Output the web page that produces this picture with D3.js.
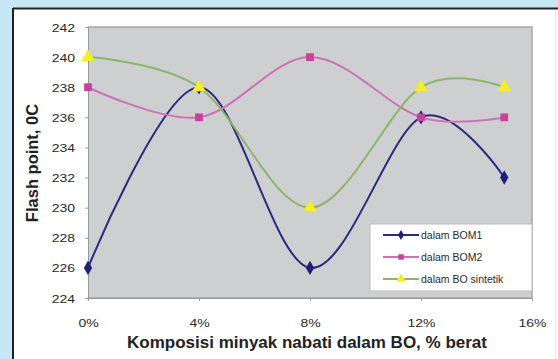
<!DOCTYPE html>
<html><head><meta charset="utf-8">
<script src="https://cdn.jsdelivr.net/npm/d3@7"></script>
<style>body{margin:0;background:#c6e7f6;}svg{display:block;}</style>
</head><body>
<script>
const xValues = [0, 4, 8, 12, 15];
const bom1 = [226, 238, 226, 236, 232];
const bom2 = [238, 236, 240, 236, 236];
const sintetik = [240, 238, 230, 238, 238];
const seriesNames = ["dalam BOM1", "dalam BOM2", "dalam BO sintetik"];
const yTicks = [224, 226, 228, 230, 232, 234, 236, 238, 240, 242];
const xTicks = [0, 4, 8, 12, 16];

const W = 558, H = 359;
const FONT = "Arial, Liberation Sans, sans-serif";
const svg = d3.select("body").append("svg").attr("width", W).attr("height", H);
svg.append("rect").attr("width", W).attr("height", H).attr("fill", "#c6e7f6");
svg.append("rect").attr("x", 14).attr("y", 9).attr("width", W - 14).attr("height", H - 9).attr("fill", "#fff");
svg.append("line").attr("x1", 13).attr("x2", 13).attr("y1", 8).attr("y2", H).attr("stroke", "#222").attr("stroke-width", 2);
svg.append("line").attr("x1", 13).attr("x2", W).attr("y1", 8.5).attr("y2", 8.5).attr("stroke", "#222").attr("stroke-width", 2);
svg.append("line").attr("x1", 555.5).attr("x2", 555.5).attr("y1", 10).attr("y2", H).attr("stroke", "#e6e6e6");

const L = 88, R = 532, T = 27, B = 298;
const x = d3.scaleLinear().domain([0, 16]).range([L, R]);
const y = d3.scaleLinear().domain([224, 242]).range([B, T]);

svg.append("rect").attr("x", L).attr("y", T).attr("width", R - L).attr("height", B - T)
  .attr("fill", "#cdcfd0");
svg.append("path").attr("d", `M${L},${T}H${R}V${B}H${L}`).attr("fill", "none").attr("stroke", "#a8a8a8").attr("stroke-width", 1.5);

const yAxis = svg.append("g").attr("transform", `translate(${L},0)`)
  .call(d3.axisLeft(y).tickValues(yTicks).tickSize(3).tickPadding(10));
yAxis.select(".domain").attr("stroke", "#999");
yAxis.selectAll(".tick line").attr("stroke", "#999");
yAxis.selectAll("text").attr("font-family", FONT).attr("font-size", 14).attr("fill", "#2a2a2a")
  .attr("dy", "0.36em").attr("transform", "scale(1,0.8)").each(function(d){ d3.select(this).attr("y", 0); });

const xAxis = svg.append("g").attr("transform", `translate(0,${B})`)
  .call(d3.axisBottom(x).tickValues(xTicks).tickFormat(d => d + "%").tickSize(3).tickPadding(12));
xAxis.select(".domain").attr("stroke", "#999");
xAxis.selectAll(".tick line").attr("stroke", "#999");
xAxis.selectAll("text").attr("font-family", FONT).attr("font-size", 14).attr("fill", "#2a2a2a")
  .attr("dy", null).attr("y", 0).attr("transform", "translate(0,29) scale(1,0.8)");

const series = [
  {name: seriesNames[0], vals: bom1, line: "#2a2a80", marker: "#1f1f78", sym: d3.symbolDiamond, size: 60},
  {name: seriesNames[1], vals: bom2, line: "#cf72b4", marker: "#c9409e", sym: d3.symbolSquare, size: 60},
  {name: seriesNames[2], vals: sintetik, line: "#8db56a", marker: "#f2ee2a", sym: d3.symbolTriangle, size: 80}
];
const lineGen = d3.line().x(d => x(d[0])).y(d => y(d[1])).curve(d3.curveCardinal.tension(0));

series.forEach(s => {
  const pts = xValues.map((v, i) => [v, s.vals[i]]);
  svg.append("path").datum(pts).attr("d", lineGen).attr("fill", "none")
    .attr("stroke", s.line).attr("stroke-width", 2);
});
series.forEach(s => {
  const pts = xValues.map((v, i) => [v, s.vals[i]]);
  svg.selectAll(null).data(pts).enter().append("path")
    .attr("d", d3.symbol().type(s.sym).size(s.size))
    .attr("transform", d => `translate(${x(d[0])},${y(d[1])})`)
    .attr("fill", s.marker);
});

// legend
const lg = svg.append("g");
lg.append("rect").attr("x", 370).attr("y", 224).attr("width", 162).attr("height", 67)
  .attr("fill", "#fff").attr("stroke", "#bbb");
series.forEach((s, i) => {
  const yy = 235 + i * 22;
  lg.append("line").attr("x1", 383).attr("x2", 419).attr("y1", yy).attr("y2", yy)
    .attr("stroke", s.line).attr("stroke-width", 2);
  lg.append("path").attr("d", d3.symbol().type(s.sym).size(s.size * 0.5))
    .attr("transform", `translate(401,${yy})`).attr("fill", s.marker);
  lg.append("text").attr("x", 421).attr("y", yy + 4).text(s.name)
    .attr("font-family", FONT).attr("font-size", 10.5).attr("fill", "#2a2a2a");
});

svg.append("text").attr("x", 307).attr("y", 348).attr("text-anchor", "middle")
  .attr("font-family", FONT).attr("font-size", 17).attr("font-weight", "bold")
  .attr("fill", "#222").text("Komposisi minyak nabati dalam BO, % berat");
svg.append("text").attr("transform", "translate(38,163) rotate(-90)").attr("text-anchor", "middle")
  .attr("font-family", FONT).attr("font-size", 16.5).attr("font-weight", "bold")
  .attr("fill", "#222").text("Flash point, 0C");
</script>
</body></html>
